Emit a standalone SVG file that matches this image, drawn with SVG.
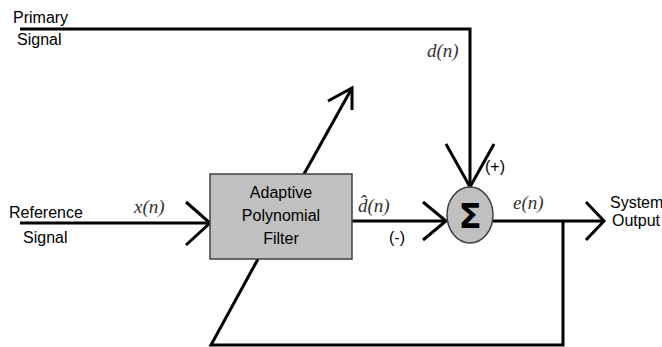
<svg xmlns="http://www.w3.org/2000/svg" width="662" height="347" viewBox="0 0 662 347">
<style>
.ln{fill:none;stroke:#000;stroke-width:3;stroke-linejoin:miter;stroke-linecap:butt}
.lbl{font-family:"Liberation Sans Narrow","Liberation Sans",Arial,sans-serif;font-size:16px;fill:#000}
.math{font-family:"Liberation Serif","DejaVu Serif",serif;font-style:italic;font-size:19px;fill:#333}
.box{fill:#c0c0c0;stroke:#404040;stroke-width:1.5}
</style>
<rect width="662" height="347" fill="#fff"/>
<g id="connectors">
<polyline class="ln" points="20,29 470,29 470,187"/>
<polyline class="ln" points="446,144 470,187 494,144"/>
<line class="ln" x1="20" y1="223" x2="210" y2="223"/>
<polyline class="ln" points="186,202 210,223 186,245"/>
<line class="ln" x1="352" y1="221" x2="446" y2="221"/>
<polyline class="ln" points="423,202 446,221 423,240"/>
<line class="ln" x1="493" y1="221" x2="604" y2="221"/>
<polyline class="ln" points="586,202 604,221 586,240"/>
<polyline class="ln" points="563,221 563,345 211,345 258,259"/>
<line class="ln" x1="304" y1="174" x2="352" y2="88"/>
<polyline class="ln" points="328,101 352,88 352,110"/>
</g>
<g id="primary-label">
<text class="lbl" x="13" y="23">Primary</text>
<text class="lbl" x="17" y="45">Signal</text>
</g>
<g id="reference-label">
<text class="lbl" x="9" y="218">Reference</text>
<text class="lbl" x="23" y="243">Signal</text>
</g>
<g id="filter">
<rect class="box" x="210" y="174" width="142" height="85"/>
<text class="lbl" x="281" y="198" text-anchor="middle">Adaptive</text>
<text class="lbl" x="281" y="221" text-anchor="middle">Polynomial</text>
<text class="lbl" x="281" y="244" text-anchor="middle">Filter</text>
</g>
<g id="sum">
<ellipse cx="470" cy="215" rx="23" ry="28" fill="#c0c0c0" stroke="#404040" stroke-width="1.5"/>
<text x="470" y="228" text-anchor="middle" font-family="'DejaVu Sans',sans-serif" font-weight="bold" font-size="34" fill="#000">Σ</text>
</g>
<g id="output-label">
<text class="lbl" x="610" y="208">System</text>
<text class="lbl" x="612" y="226">Output</text>
</g>
<g id="signal-labels">
<text class="math" x="427" y="57" font-size="20">d(n)</text>
<text class="math" x="134" y="213" font-size="17">x(n)</text>
<text class="math" x="358" y="212" font-family="'DejaVu Serif',serif" font-size="16">d̂(n)</text>
<text class="math" x="513" y="209" font-size="18">e(n)</text>
<text class="lbl" x="485" y="172" font-size="15">(+)</text>
<text class="lbl" x="389" y="243" font-size="15">(-)</text>
</g>
</svg>
